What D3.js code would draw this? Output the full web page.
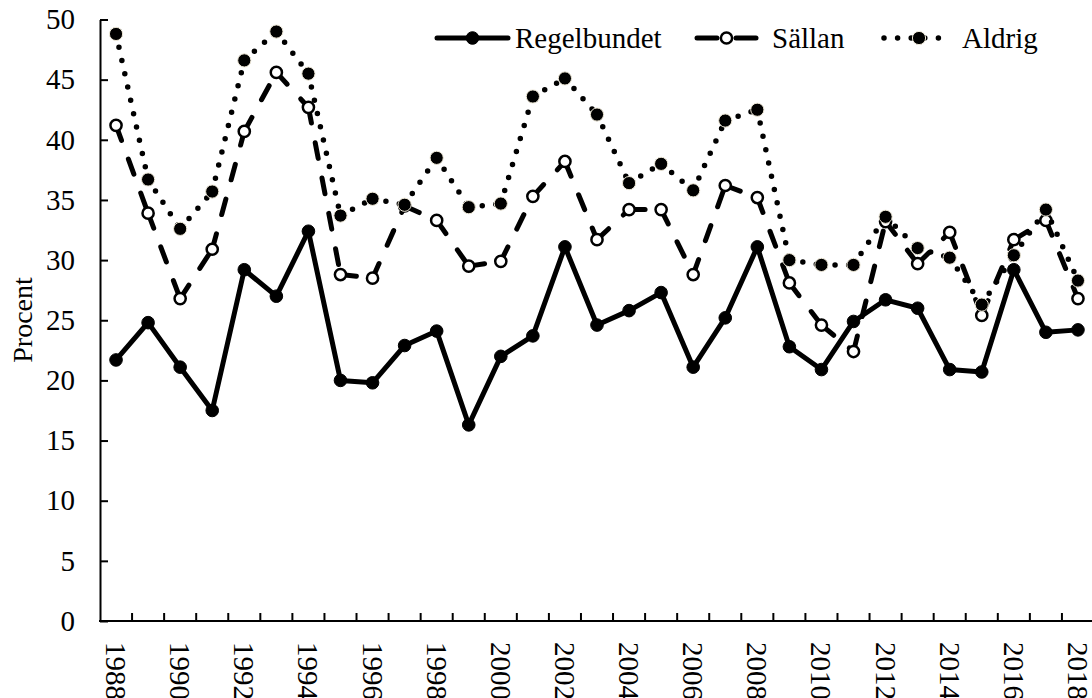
<!DOCTYPE html>
<html>
<head>
<meta charset="utf-8">
<script src="https://cdn.jsdelivr.net/npm/d3@7"></script>
<style>
    body { margin: 0; background: #fff; }
    svg { display: block; }
    text { font-family: "Liberation Serif", "Times New Roman", serif; fill: #000; }
</style>
</head>
<body>
<div id="chart-area"></div>
<script>
var width = 1092;
var height = 698;

var years = d3.range(1988, 2019);
var seriesNames = ["Regelbundet", "Sällan", "Aldrig"];
var yTicks = [0, 5, 10, 15, 20, 25, 30, 35, 40, 45, 50];

var regelbundet = [21.7, 24.8, 21.1, 17.5, 29.2, 27.0, 32.4, 20.0, 19.8, 22.9,
    24.1, 16.3, 22.0, 23.7, 31.1, 24.6, 25.8, 27.3, 21.1, 25.2,
    31.1, 22.8, 20.9, 24.9, 26.7, 26.0, 20.9, 20.7, 29.2, 24.0, 24.2];
var sallan = [41.2, 33.9, 26.8, 30.9, 40.7, 45.6, 42.7, 28.8, 28.5, 34.5,
    33.3, 29.5, 29.9, 35.3, 38.2, 31.7, 34.2, 34.2, 28.8, 36.2,
    35.2, 28.1, 24.6, 22.4, 33.2, 29.7, 32.3, 25.4, 31.7, 33.3, 26.8];
var aldrig = [48.8, 36.7, 32.6, 35.7, 46.6, 49.0, 45.5, 33.7, 35.1, 34.6,
    38.5, 34.4, 34.7, 43.6, 45.1, 42.1, 36.4, 38.0, 35.8, 41.6,
    42.5, 30.0, 29.6, 29.6, 33.6, 31.0, 30.2, 26.3, 30.4, 34.2, 28.3];

var svg = d3.select("#chart-area").append("svg")
    .attr("width", width)
    .attr("height", height);

var x = d3.scaleBand()
    .domain(years)
    .range([100, 1094]);

var y = d3.scaleLinear()
    .domain([0, 50])
    .range([621, 19.5]);

// y axis, ticks pointing inward like the original
var yAxis = d3.axisLeft(y)
    .tickValues(yTicks)
    .tickSizeInner(-8)
    .tickSizeOuter(0)
    .tickPadding(25);

var gy = svg.append("g")
    .attr("transform", "translate(100,0)")
    .call(yAxis);
gy.select(".domain").attr("stroke", "#000").attr("stroke-width", 2);
gy.selectAll(".tick line").attr("stroke", "#000").attr("stroke-width", 2);
gy.selectAll(".tick text")
    .style("font-size", "29px")
    .attr("font-family", null);

// x axis: line, ticks at category boundaries, labels every 2 years
svg.append("line")
    .attr("x1", 99).attr("x2", width)
    .attr("y1", y(0)).attr("y2", y(0))
    .attr("stroke", "#000")
    .attr("stroke-width", 2);

svg.selectAll(".xtick")
    .data(years.slice(1).concat([2019]))
    .enter()
    .append("line")
    .attr("class", "xtick")
    .attr("x1", function(d) { return d === 2019 ? x(2018) + x.bandwidth() : x(d); })
    .attr("x2", function(d) { return d === 2019 ? x(2018) + x.bandwidth() : x(d); })
    .attr("y1", y(0))
    .attr("y2", y(0) - 8)
    .attr("stroke", "#000")
    .attr("stroke-width", 2);

svg.selectAll(".xlabel")
    .data(years.filter(function(d) { return d % 2 === 0; }))
    .enter()
    .append("text")
    .attr("class", "xlabel")
    .attr("transform", function(d) {
        return "translate(" + (x(d) + x.bandwidth() / 2) + ",642) rotate(90)";
    })
    .attr("dominant-baseline", "central")
    .style("font-size", "29px")
    .text(function(d) { return d; });

// axis title
svg.append("text")
    .attr("transform", "translate(22,320) rotate(-90)")
    .attr("text-anchor", "middle")
    .attr("dominant-baseline", "central")
    .style("font-size", "28px")
    .text("Procent");

function cx(i) {
    return x(years[i]) + x.bandwidth() / 2;
}

// each segment is its own path so the dash pattern restarts at every point
function drawSeries(values, dash, cls) {
    var pairs = d3.pairs(values.map(function(v, i) { return [cx(i), y(v)]; }));
    svg.selectAll("." + cls + "-seg")
        .data(pairs)
        .enter()
        .append("line")
        .attr("class", cls + "-seg")
        .attr("x1", function(d) { return d[0][0]; })
        .attr("y1", function(d) { return d[0][1]; })
        .attr("x2", function(d) { return d[1][0]; })
        .attr("y2", function(d) { return d[1][1]; })
        .attr("stroke", "#000")
        .attr("stroke-width", dash.width)
        .attr("stroke-linecap", dash.cap)
        .attr("stroke-dasharray", dash.array);
}

var styles = [
    { width: 5, cap: "round", array: null, fill: "#000", stroke: "#000", sw: 1, r: 6.3 },
    { width: 5, cap: "round", array: "16 20", fill: "#fff", stroke: "#000", sw: 2.5, r: 5.6 },
    { width: 5.5, cap: "round", array: "0 13.6", fill: "#000", stroke: "#efe9d8", sw: 1, r: 6.6 }
];
var allSeries = [regelbundet, sallan, aldrig];

allSeries.forEach(function(vals, k) {
    var cls = "s" + k;
    drawSeries(vals, styles[k], cls);
    svg.selectAll("." + cls + "-dot")
        .data(vals)
        .enter()
        .append("circle")
        .attr("class", cls + "-dot")
        .attr("cx", function(d, i) { return cx(i); })
        .attr("cy", function(d) { return y(d); })
        .attr("r", styles[k].r)
        .attr("fill", styles[k].fill)
        .attr("stroke", styles[k].stroke)
        .attr("stroke-width", styles[k].sw);
});

// legend
var legendX = [437, 695, 882];
var legendLen = [71, 63, 60];
var legendY = 38;
seriesNames.forEach(function(name, k) {
    var st = styles[k];
    var x0 = legendX[k];
    var g = svg.append("g");
    if (k === 1) {
        g.append("line").attr("x1", x0 + 2).attr("x2", x0 + 22)
            .attr("y1", legendY).attr("y2", legendY)
            .attr("stroke", "#000").attr("stroke-width", 5).attr("stroke-linecap", "round");
        g.append("line").attr("x1", x0 + legendLen[k] - 22).attr("x2", x0 + legendLen[k] - 2)
            .attr("y1", legendY).attr("y2", legendY)
            .attr("stroke", "#000").attr("stroke-width", 5).attr("stroke-linecap", "round");
    } else {
        g.append("line").attr("x1", x0 + (k === 2 ? 2 : 0)).attr("x2", x0 + legendLen[k])
            .attr("y1", legendY).attr("y2", legendY)
            .attr("stroke", "#000").attr("stroke-width", st.width)
            .attr("stroke-linecap", st.cap)
            .attr("stroke-dasharray", st.array);
    }
    var mx = k === 2 ? x0 + 37 : x0 + legendLen[k] / 2;
    g.append("circle")
        .attr("cx", mx).attr("cy", legendY).attr("r", st.r)
        .attr("fill", st.fill).attr("stroke", st.stroke).attr("stroke-width", st.sw);
    g.append("text")
        .attr("x", x0 + legendLen[k] + (k === 0 ? 7 : (k === 1 ? 14 : 20)))
        .attr("y", legendY + 10)
        .style("font-size", "29px")
        .text(name);
});
</script>
</body>
</html>
